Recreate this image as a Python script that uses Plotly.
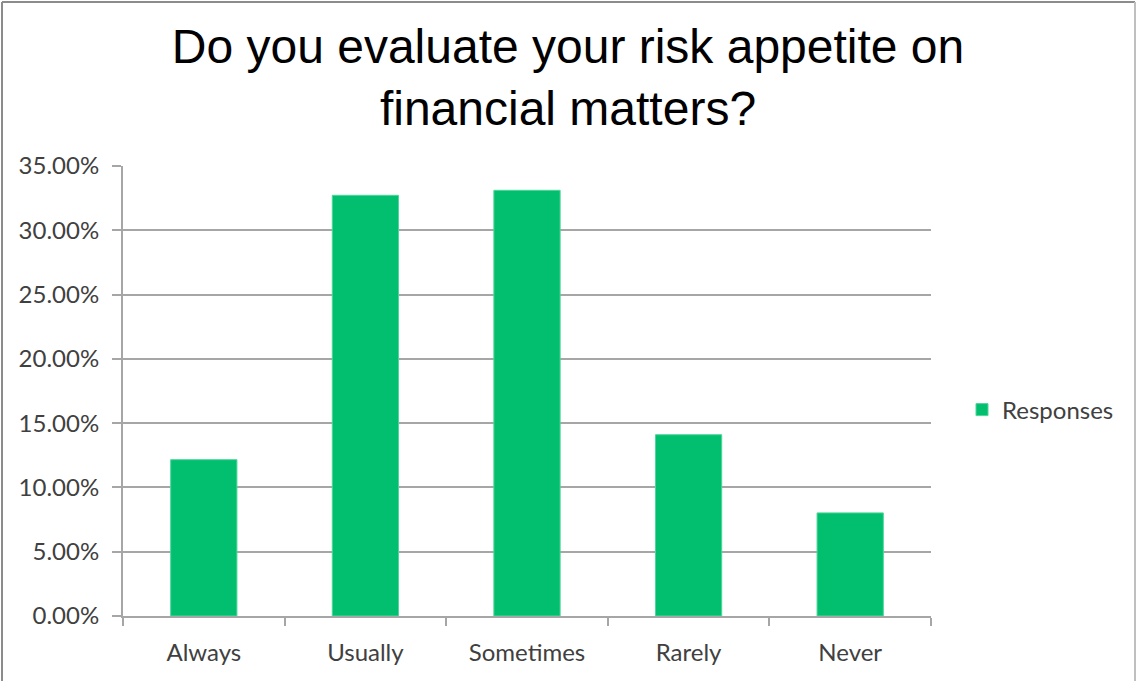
import plotly.graph_objects as go

# Survey answers and share of respondents (fraction)
categories = ["Always", "Usually", "Sometimes", "Rarely", "Never"]
responses = [0.1216, 0.3272, 0.3311, 0.1410, 0.0802]
y_ticks = [0.0, 0.05, 0.10, 0.15, 0.20, 0.25, 0.30, 0.35]
y_tick_labels = ["0.00%", "5.00%", "10.00%", "15.00%", "20.00%", "25.00%", "30.00%", "35.00%"]

W, H = 1136, 681
L, R, T, B = 123, 205, 166, 65

fig = go.Figure()
fig.add_trace(go.Bar(
    x=categories,
    y=responses,
    name="Responses",
    marker=dict(color="#02BF6F", line=dict(color="#4FD69A", width=1)),
    width=0.41,
))

grid = "#A6A6A6"
tick_font = dict(family="Lato, 'Open Sans', sans-serif", size=24, color="#404040")

fig.update_layout(
    width=W, height=H,
    margin=dict(l=L, r=R, t=T, b=B, autoexpand=False),
    paper_bgcolor="white",
    plot_bgcolor="white",
    title=dict(
        text="Do you evaluate your risk appetite on<br>financial matters?",
        font=dict(family="'Liberation Sans', Arial, sans-serif", size=48, color="black"),
        x=568 / W, xanchor="center",
        y=1 - 63 / H, yanchor="middle", yref="container",
    ),
    showlegend=True,
    legend=dict(
        x=1 + (962 - (W - R)) / (W - L - R), xanchor="left",
        y=(H - B - 410) / (H - T - B), yanchor="middle",
        font=tick_font,
        itemwidth=30,
        bgcolor="rgba(0,0,0,0)",
    ),
    xaxis=dict(
        type="category",
        showline=True, linecolor=grid, linewidth=2,
        ticks="outside", tickson="boundaries", ticklen=8, tickcolor=grid, tickwidth=2,
        tickfont=tick_font,
        ticklabelstandoff=14,
        showgrid=False,
    ),
    yaxis=dict(
        range=[0, 0.35],
        tickvals=y_ticks, ticktext=y_tick_labels,
        showline=True, linecolor=grid, linewidth=2,
        ticks="outside", ticklen=9, tickcolor=grid, tickwidth=2,
        showgrid=True, gridcolor=grid, gridwidth=2,
        zeroline=False,
        tickfont=tick_font,
        ticklabelstandoff=8,
    ),
    bargap=0.59,
)

# Frame around the whole chart area
pw = W - L - R
ph = H - T - B
def px_x(v):
    return (v - L) / pw
def px_y(v):
    return (H - B - v) / ph
fig.add_shape(type="line", xref="paper", yref="paper",
              x0=px_x(2), x1=px_x(2), y0=px_y(2), y1=px_y(H + 5),
              line=dict(color="#8C8C8C", width=2))
fig.add_shape(type="line", xref="paper", yref="paper",
              x0=px_x(2), x1=px_x(1135), y0=px_y(2), y1=px_y(2),
              line=dict(color="#8C8C8C", width=2))
fig.add_shape(type="line", xref="paper", yref="paper",
              x0=px_x(1135), x1=px_x(1135), y0=px_y(2), y1=px_y(H + 5),
              line=dict(color="#BFBFBF", width=2))

fig.write_html("out.html")
